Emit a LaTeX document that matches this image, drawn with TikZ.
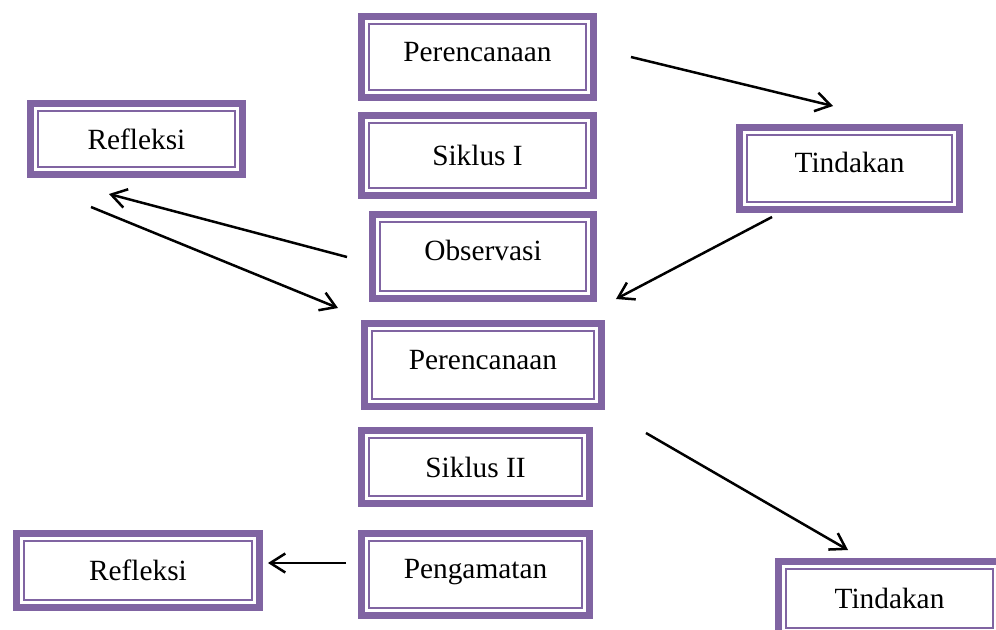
\documentclass[tikz,border=0pt]{standalone}
\usepackage{fontspec}
\setmainfont{Liberation Serif}
\usetikzlibrary{arrows.meta,calc}
\definecolor{boxpurple}{RGB}{128,100,162}
\tikzset{box/.style={draw=boxpurple, line width=0.14cm, rectangle, inner sep=0pt, outer sep=0pt, font=\fontsize{16.7}{20}\selectfont},
  lift/.style={text height=0.3cm, text depth=0.14cm},
  inline/.style={draw=boxpurple, line width=0.04cm},
  arr/.style={-{Straight Barb[length=0.3cm,width=0.38cm]}, line width=0.05cm}}

\begin{document}
\begin{tikzpicture}[x=0.02cm, y=-0.02cm]
  \useasboundingbox (0,0) rectangle (996,629);
  \node[box, lift, minimum width=4.64cm, minimum height=1.62cm] (per1) at (477.5,57) {Perencanaan\hspace{0.52cm}};
  \node[box, minimum width=4.24cm, minimum height=1.42cm] (ref1) at (136.5,139) {Refleksi};
  \node[box, minimum width=4.64cm, minimum height=1.60cm] (sik1) at (477.5,155.5) {Siklus I};
  \node[box, lift, minimum width=4.40cm, minimum height=1.64cm] (tin1) at (849.5,168.5) {Tindakan};
  \node[box, lift, minimum width=4.42cm, minimum height=1.68cm] (obs) at (483,256.5) {Observasi};
  \node[box, lift, minimum width=4.74cm, minimum height=1.66cm] (per2) at (483,365) {Perencanaan};
  \node[box, minimum width=4.56cm, minimum height=1.46cm] (sik2) at (475.5,467) {Siklus II};
  \node[box, minimum width=4.86cm, minimum height=1.48cm] (ref2) at (138,570.5) {Refleksi};
  \node[box, lift, minimum width=4.56cm, minimum height=1.64cm] (pen) at (475.5,574.5) {Pengamatan};
  \node[box, minimum width=4.44cm, minimum height=1.48cm] (tin2) at (889.5,598.5) {Tindakan};
  \foreach \n in {per1,ref1,sik1,tin1,obs,per2,sik2,ref2,pen,tin2}
    \draw[inline] ([xshift=0.15cm,yshift=-0.15cm]\n.north west) rectangle ([xshift=-0.15cm,yshift=0.15cm]\n.south east);
  \draw[arr] ($(per1.east)+(37.5,0)$) -- ($(tin1.north)+(-16.5,-21.5)$);
  \draw[arr] ($(obs.west)+(-25.5,0.5)$) -- ($(ref1.south)+(-27.5,19.5)$);
  \draw[arr] ($(ref1.south)+(-45.5,32.5)$) -- ($(per2.north west)+(-26.5,-15.5)$);
  \draw[arr] ($(tin1.south)+(-77.5,7.5)$) -- ($(per2.north east)+(14.5,-24.5)$);
  \draw[arr] ($(per2.south east)+(44.5,26.5)$) -- ($(tin2.north west)+(69.5,-11.5)$);
  \draw[arr] ($(pen.west)+(-15.5,-11.5)$) -- ($(ref2.east)+(8.5,-7.5)$);
\end{tikzpicture}
\end{document}
